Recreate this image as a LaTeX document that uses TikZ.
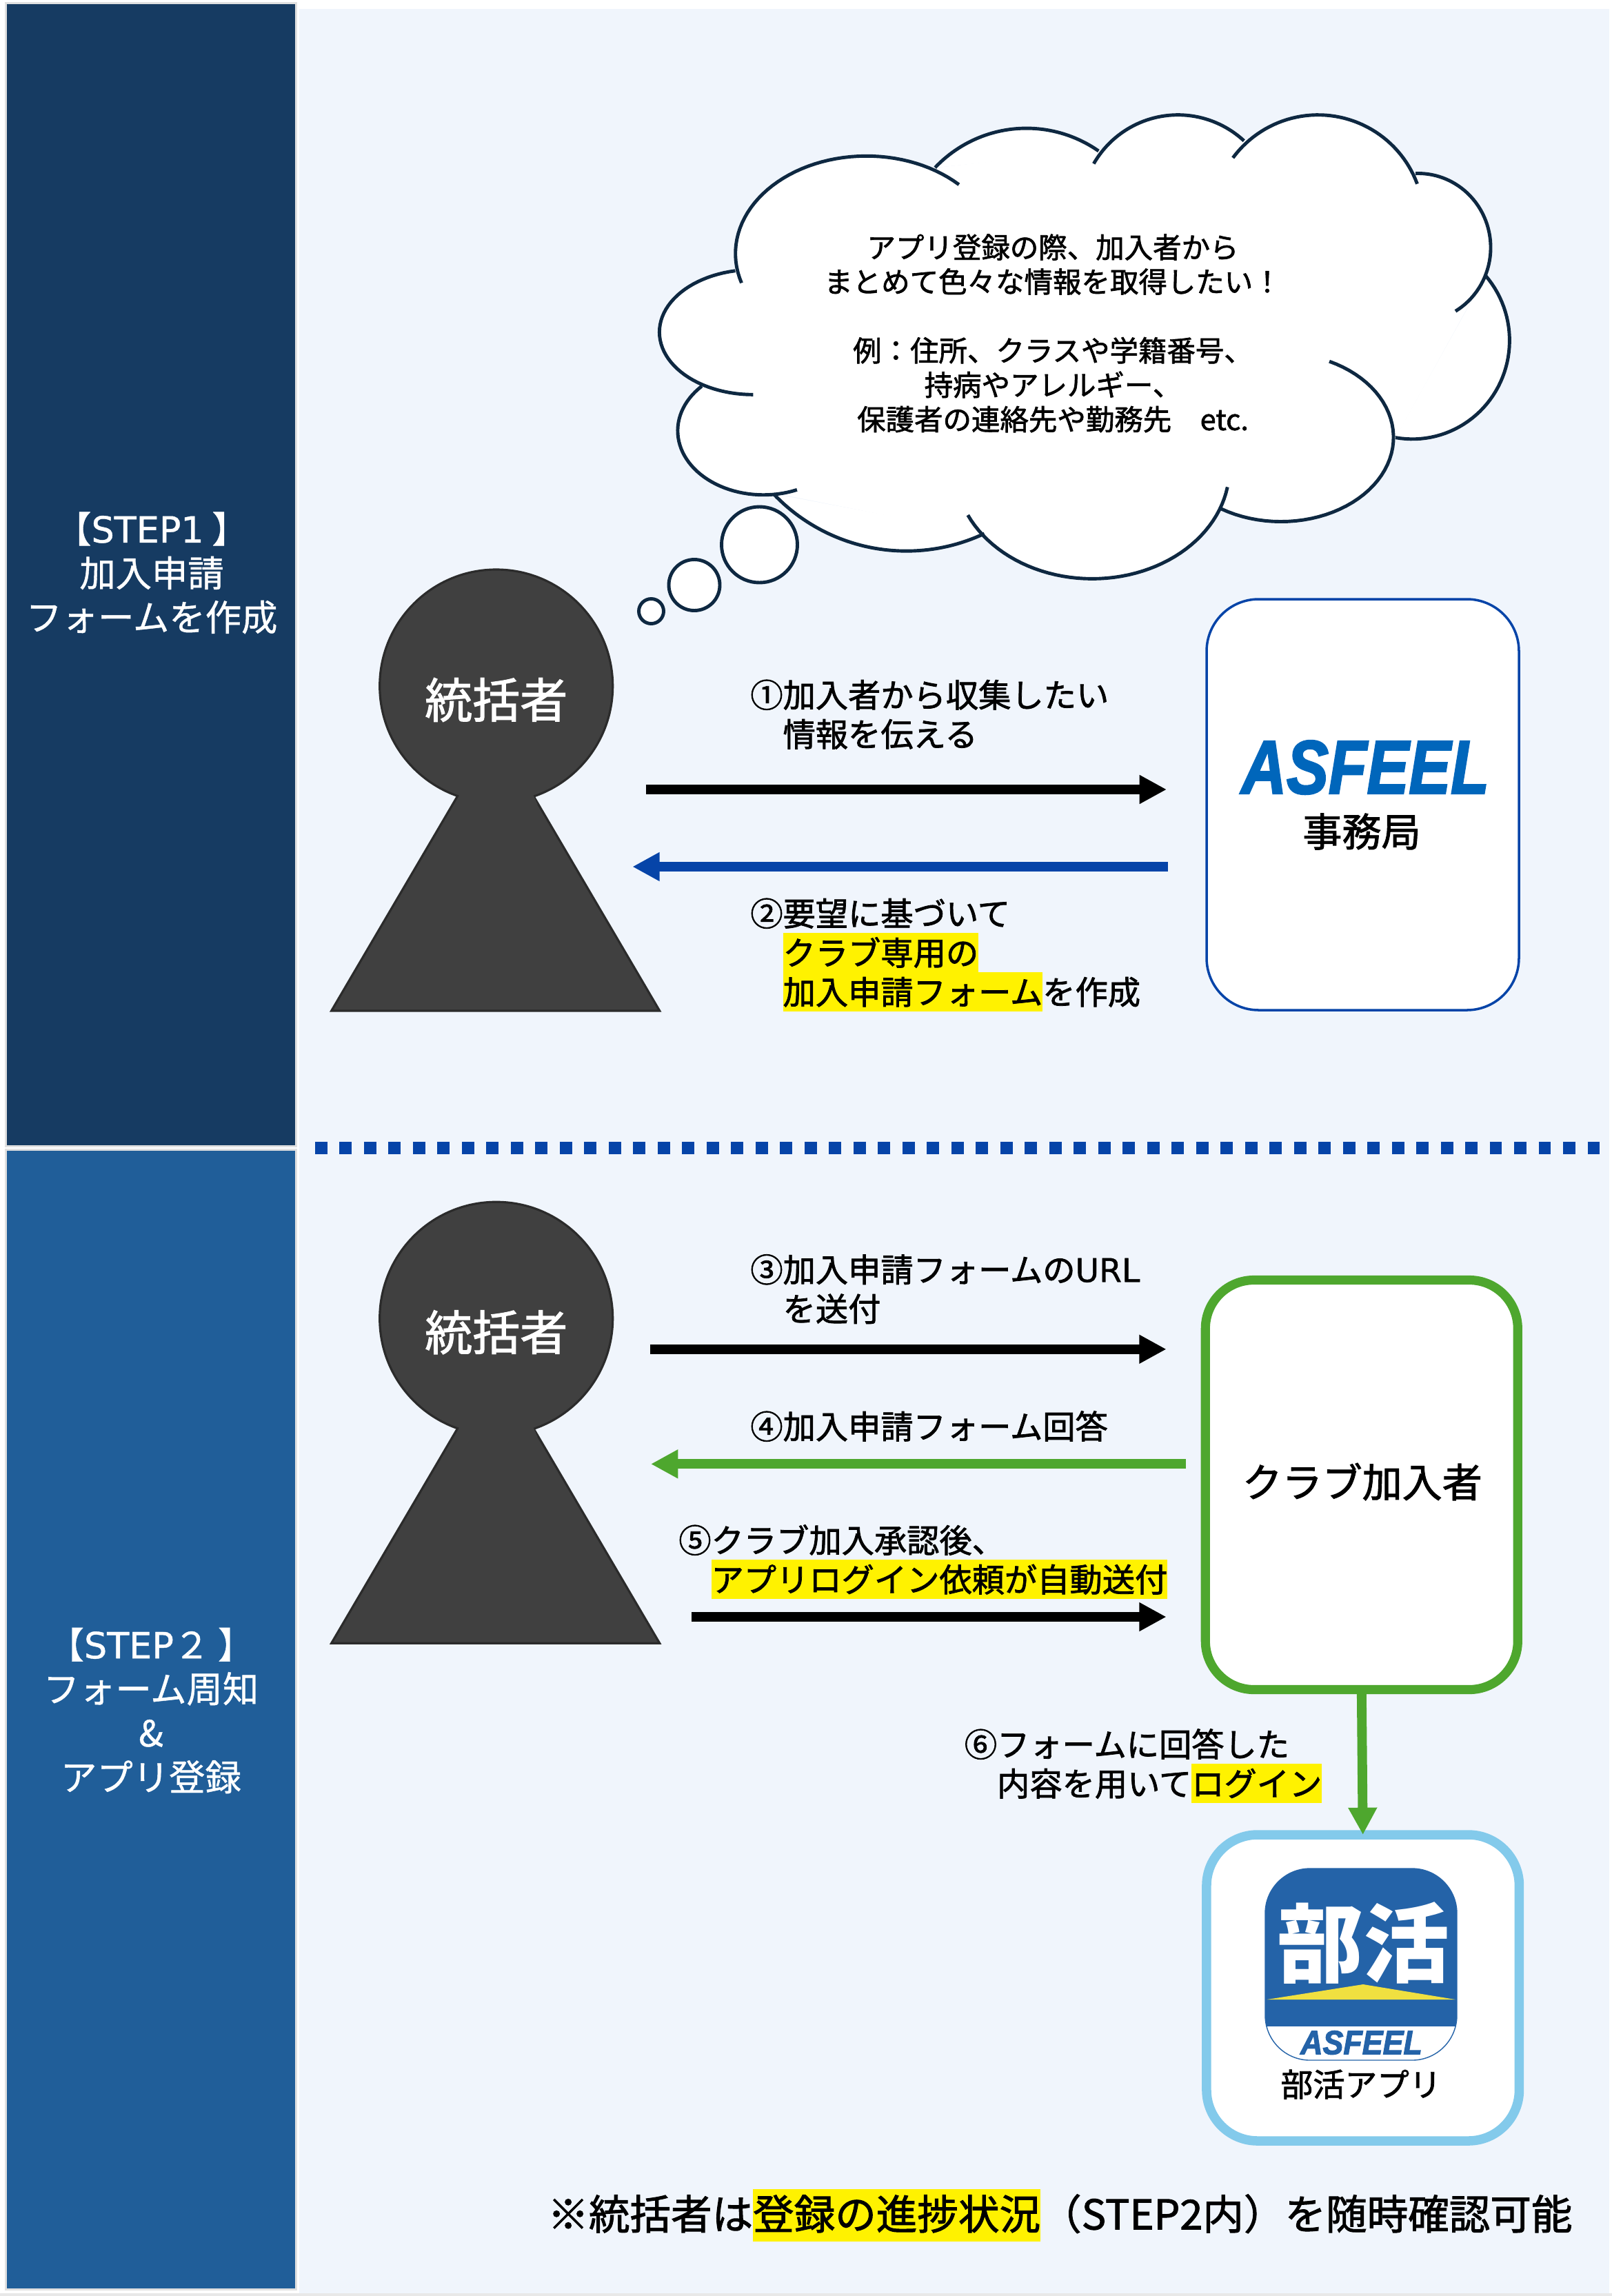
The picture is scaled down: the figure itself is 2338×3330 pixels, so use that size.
\documentclass[tikz,border=0pt]{standalone}
\usepackage{fontspec}
\usepackage{graphicx}
\usepackage{xcolor}
\usepackage{tikz}
\usetikzlibrary{arrows.meta}
\setmainfont{Noto Sans CJK JP}
\newfontfamily\lblfont[FakeBold=1.6]{Noto Sans CJK JP}
\newfontfamily\bandfont[FakeBold=0.8]{Noto Sans CJK JP}
\newfontfamily\latinfont[FakeBold=0.8]{DejaVu Sans}
\newfontfamily\logofont[FakeBold=2.5]{Liberation Sans}
\definecolor{bandone}{HTML}{163B62}
\definecolor{bandtwo}{HTML}{205E99}
\definecolor{panelbg}{HTML}{F0F5FC}
\definecolor{cloudline}{HTML}{0E2841}
\definecolor{personfill}{HTML}{404040}
\definecolor{personline}{HTML}{2B2B2B}
\definecolor{navyline}{HTML}{0644A8}
\definecolor{greenline}{HTML}{4EA72E}
\definecolor{skyline}{HTML}{83CAEB}
\definecolor{logoblue}{HTML}{0066BB}
\definecolor{iconblue}{HTML}{2463A8}
\definecolor{iconyellow}{HTML}{F0E040}
\newcommand{\lblstrut}{\rule[-6pt]{0pt}{32.4pt}}
\newcommand{\hl}[1]{{\setlength{\fboxsep}{0pt}\colorbox{yellow}{\lblstrut #1}}}
\newcommand{\hlbig}[1]{{\setlength{\fboxsep}{0pt}\colorbox{yellow}{\rule[-10pt]{0pt}{43.2pt}#1}}}
\newcommand{\cloudarc}[7]{
    \path[#1] plot[domain=#6:#7, samples=48, variable=\t] ({#2+#4*cos(\t)},{#3+#5*sin(\t)});
}
\newcommand{\cloudlobes}[1]{
    \cloudarc{#1}{430}{470}{229}{292}{162.5}{315}
    \cloudarc{#1}{710}{471}{220}{376}{223.4}{305}
    \cloudarc{#1}{975}{346}{170}{291}{209.9}{312.8}
    \cloudarc{#1}{1220}{371}{185}{316}{216.4}{339.7}
    \cloudarc{#1}{1395}{452}{127}{222}{268}{419}
    \cloudarc{#1}{1385}{730}{170}{295}{319}{460}
    \cloudarc{#1}{1155}{1020}{197}{252}{-64.5}{122}
    \cloudarc{#1}{825}{1113}{240}{330}{9.7}{155}
    \cloudarc{#1}{500}{813}{320}{547}{64.8}{136.6}
    \cloudarc{#1}{250}{1000}{150}{192}{67}{224}
    \cloudarc{#1}{232}{705}{164}{187}{90}{259}
}
\tikzset{
    band/.style={rectangle, draw=black!12, line width=1.5pt, minimum width=421*0.02cm},
    bandtext/.style={text=white, align=center, inner sep=0pt, font=\fontsize{29.8pt}{36.4pt}\bandfont},
    roundbox/.style={rectangle, fill=white, draw, outer sep=0pt, inner sep=0pt},
    thoughtdot/.style={circle, fill=white, draw=cloudline, line width=2.8pt, inner sep=0pt},
    steplbl/.style={anchor=north west, align=left, inner sep=0pt, font=\fontsize{26.9pt}{32.4pt}\lblfont},
    flowarrow/.style={line width=7.9pt, -{Triangle[length=22.4pt,width=22.4pt]}},
    person/.pic={
        \draw[fill=personfill, draw=personline, line width=1.8pt] (-54,156) -- (-239,471) -- (237,471) -- (52,156);
        \node(-head) [circle, fill=personfill, draw=personline, line width=1.8pt, minimum size=338*0.02cm, inner sep=0pt]{};
        \fill[personfill] (-50,150) -- (50,150) -- (60,172) -- (-60,172) -- cycle;
        \node(-name) [inner sep=0pt, text=white, font=\fontsize{39.3pt}{40pt}\lblfont] at (0,20) {統括者};
    }
}
\begin{document}
\begin{tikzpicture}[x=0.02cm, y=-0.02cm]
    \useasboundingbox (0,0) rectangle (2338,3330);
    \fill[white] (0,0) rectangle (2338,3330);
    \fill[black!9] (0,3326) rectangle (2338,3330);
    \node(panel) [rectangle, fill=panelbg, minimum width=1900*0.02cm, minimum height=3313*0.02cm, inner sep=0pt] at (1384,1669.5) {};
    \node(bandA) [band, fill=bandone, minimum height=1658*0.02cm] at (219,833.5) {};
    \node(bandB) [band, fill=bandtwo, minimum height=1653*0.02cm] at (219,2494) {};
    \node(stepA) [bandtext] at (220,831) {【{\latinfont STEP1} 】\\加入申請\\フォームを作成};
    \node(stepB) [bandtext] at (219,2481) {【{\latinfont STEP}２ 】\\フォーム周知\\\&\\アプリ登録};

    \coordinate (sepL) at (457,1665);
    \coordinate (sepR) at (2323,1665);
    \draw[navyline, line width=10.2pt, dash pattern=on 10.2pt off 10pt] (sepL) -- (sepR);

    \begin{scope}[shift={(900,140)}, xscale=0.8292, yscale=0.4847]
        \path[fill=white, draw=white, line width=1pt] (552,215) -- (838,160) -- (1092,130) -- (1388,232) -- (1507,548) -- (1355,1020) -- (1050,1235) -- (637,1310) -- (270,1185) -- (145,870) -- (200,518) -- cycle;
        \cloudlobes{fill=white, draw=white, line width=1pt}
        \cloudlobes{draw=cloudline, line width=2.8pt}
    \end{scope}
    \node(thoughtA) [thoughtdot, minimum size=110*0.02cm] at (1101.5,790) {};
    \node(thoughtB) [thoughtdot, minimum size=74*0.02cm] at (1007,848.5) {};
    \node(thoughtC) [thoughtdot, minimum size=36*0.02cm] at (944.5,886.5) {};
    \node(wish) [align=center, inner sep=0pt, font=\fontsize{23.6pt}{28.4pt}\lblfont] at (1527,483.4) {アプリ登録の際、加入者から\\まとめて色々な情報を取得したい！\\[28.4pt]例：住所、クラスや学籍番号、\\持病やアレルギー、\\保護者の連絡先や勤務先　etc.};

    \pic (chiefA) at (719.7,995) {person};
    \pic (chiefB) at (719.7,1912.2) {person};

    \node(office) [roundbox, draw=navyline, line width=2pt, minimum width=453*0.02cm, minimum height=596*0.02cm, rounded corners=43pt] at (1976.5,1167) {};
    \node(officelogo) [inner sep=0pt, text=logoblue, font=\fontsize{62.5pt}{70pt}\logofont\bfseries\itshape] at (1980,1113) {\scalebox{0.83}[1]{ASFEEL}};
    \node(officename) [inner sep=0pt, font=\fontsize{32.5pt}{36pt}\lblfont] at (1975,1206) {事務局};

    \node(member) [roundbox, draw=greenline, line width=7.5pt, minimum width=453*0.02cm, minimum height=594*0.02cm, rounded corners=40pt] at (1974.8,2153.5) {};
    \node(membername) [inner sep=0pt, font=\fontsize{33pt}{36pt}\lblfont] at (1975.7,2149) {クラブ加入者};

    \node(app) [roundbox, draw=skyline, line width=7.7pt, minimum width=453.5*0.02cm, minimum height=444*0.02cm, rounded corners=42pt] at (1976.7,2883) {};
    \begin{scope}
        \clip[rounded corners=37pt] (1835,2710) rectangle (2113,2988);
        \fill[iconblue] (1835,2710) rectangle (2113,2938.5);
        \fill[white] (1835,2938.5) rectangle (2113,2988);
        \fill[iconyellow] (1837.5,2900) -- (1977,2878) -- (2111,2900) -- cycle;
    \end{scope}
    \node(appicon) [rectangle, draw=iconblue, line width=0.8pt, minimum size=278*0.02cm, rounded corners=37pt, inner sep=0pt] at (1974,2849) {};
    \node(appmark) [inner sep=0pt, text=white, font=\fontsize{71pt}{75pt}\selectfont\bfseries] at (1977,2818) {部活};
    \node(applogo) [inner sep=0pt, text=iconblue, font=\fontsize{27.7pt}{30pt}\logofont\bfseries\itshape] at (1974.5,2962.5) {\scalebox{0.92}[1]{ASFEEL}};
    \node(appname) [inner sep=0pt, font=\fontsize{26.5pt}{30pt}\lblfont] at (1974,3023) {部活アプリ};

    \coordinate (arrAs) at (936.5,1145);
    \coordinate (arrAe) at (1692,1145);
    \coordinate (arrBs) at (1693.5,1257);
    \coordinate (arrBe) at (917.3,1257);
    \coordinate (arrCs) at (942.8,1956.8);
    \coordinate (arrCe) at (1691.6,1956.8);
    \coordinate (arrDs) at (1719.5,2123.3);
    \coordinate (arrDe) at (944,2123.3);
    \coordinate (arrEs) at (1002.8,2345);
    \coordinate (arrEe) at (1691.6,2345);
    \draw[flowarrow] (arrAs) -- (arrAe);
    \draw[flowarrow, navyline] (arrBs) -- (arrBe);
    \draw[flowarrow] (arrCs) -- (arrCe);
    \draw[flowarrow, greenline] (arrDs) -- (arrDe);
    \draw[flowarrow] (arrEs) -- (arrEe);
    \draw[flowarrow, greenline] (member.south) -- (app.north);

    \node(noteA) [steplbl] at (1088,979) {\lblstrut ①加入者から収集したい\\\hspace*{1em}情報を伝える};
    \node(noteB) [steplbl] at (1088,1296) {\lblstrut ②要望に基づいて\\\hspace*{1em}\hl{クラブ専用の}\\\hspace*{1em}\hl{加入申請フォーム}を作成};
    \node(noteC) [steplbl] at (1088,1812.5) {\lblstrut ③加入申請フォームの{\latinfont URL}\\\hspace*{1em}を送付};
    \node(noteD) [steplbl] at (1088,2040) {\lblstrut ④加入申請フォーム回答};
    \node(noteE) [steplbl] at (984,2205) {\lblstrut ⑤クラブ加入承認後、\\\hspace*{1em}\hl{アプリログイン依頼が自動送付}};
    \node(noteF) [steplbl] at (1398.5,2501) {\lblstrut ⑥フォームに回答した\\\hspace*{1em}内容を用いて\hl{ログイン}};
    \node(footnote) [anchor=west, inner sep=0pt, font=\fontsize{33.9pt}{40pt}\lblfont] at (794,3213) {※統括者は\hlbig{登録の進捗状況}（STEP2内）を随時確認可能};
\end{tikzpicture}
\end{document}
